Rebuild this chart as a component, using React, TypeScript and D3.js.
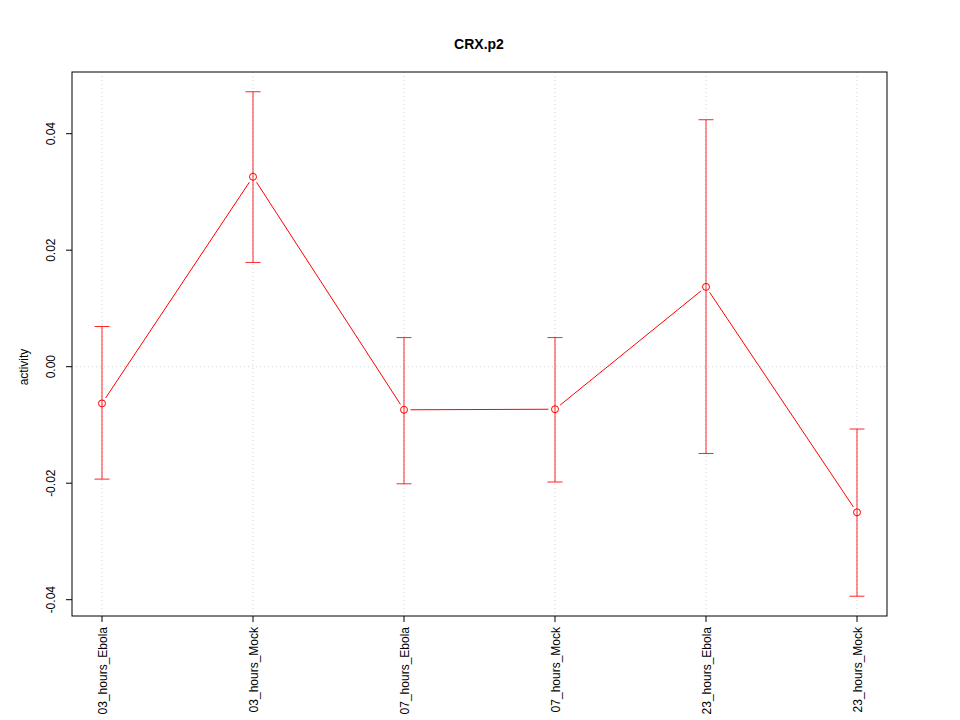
import React from "react";
import * as d3 from "d3";

const categories = ["03_hours_Ebola", "03_hours_Mock", "07_hours_Ebola", "07_hours_Mock", "23_hours_Ebola", "23_hours_Mock"];
const means = [-0.0063, 0.0326, -0.0074, -0.0073, 0.0137, -0.0250];
const uppers = [0.0069, 0.0472, 0.0050, 0.0050, 0.0424, -0.0107];
const lowers = [-0.0193, 0.0179, -0.0201, -0.0198, -0.0149, -0.0394];
const yTicks = [-0.04, -0.02, 0.0, 0.02, 0.04];

export default function App() {
  const W = 960, H = 720;
  const left = 72, right = 887, top = 72, bottom = 616;
  const x = d3.scalePoint<string>().domain(categories).range([102, 857]);
  const y = d3.scaleLinear().domain([-0.04, 0.04]).range([599.7, 133.7]);
  const red = "#ff0000";
  const font = "Liberation Sans, Arial, sans-serif";
  const gap = 6.5;

  const segs = [] as { x1: number; y1: number; x2: number; y2: number }[];
  for (let i = 0; i < categories.length - 1; i++) {
    const ax = x(categories[i])!, ay = y(means[i]);
    const bx = x(categories[i + 1])!, by = y(means[i + 1]);
    const dx = bx - ax, dy = by - ay;
    const len = Math.sqrt(dx * dx + dy * dy);
    const ux = dx / len, uy = dy / len;
    segs.push({ x1: ax + ux * gap, y1: ay + uy * gap, x2: bx - ux * gap, y2: by - uy * gap });
  }

  return (
    <svg width={W} height={H} style={{ position: "absolute", left: 0, top: 0, background: "#fff" }}>
      <rect x={0} y={0} width={W} height={H} fill="#fff" />
      {/* grid */}
      {categories.map((c) => (
        <line key={"g" + c} x1={x(c)} x2={x(c)} y1={top} y2={bottom} stroke="#d3d3d3" strokeDasharray="1,3" strokeWidth={1} />
      ))}
      <line x1={left} x2={right} y1={y(0)} y2={y(0)} stroke="#d3d3d3" strokeDasharray="1,3" strokeWidth={1} />
      {/* error bars */}
      {categories.map((c, i) => {
        const cx = x(c)!;
        return (
          <g key={"e" + c} stroke={red} strokeWidth={1} opacity={0.85}>
            <line x1={cx} x2={cx} y1={y(uppers[i])} y2={y(lowers[i])} />
            <line x1={cx - 7.5} x2={cx + 7.5} y1={y(uppers[i])} y2={y(uppers[i])} />
            <line x1={cx - 7.5} x2={cx + 7.5} y1={y(lowers[i])} y2={y(lowers[i])} />
          </g>
        );
      })}
      {/* lines */}
      {segs.map((s, i) => (
        <line key={"s" + i} x1={s.x1} y1={s.y1} x2={s.x2} y2={s.y2} stroke={red} strokeWidth={1} />
      ))}
      {categories.map((c, i) => (
        <circle key={"p" + c} cx={x(c)} cy={y(means[i])} r={3.5} fill="none" stroke={red} strokeWidth={1} />
      ))}
      {/* frame */}
      <rect x={left} y={top} width={right - left} height={bottom - top} fill="none" stroke="#000" strokeWidth={1} />
      {/* y axis */}
      {yTicks.map((t) => (
        <g key={"y" + t}>
          <line x1={left - 6} x2={left} y1={y(t)} y2={y(t)} stroke="#000" />
          <text transform={`translate(${55},${y(t)}) rotate(-90)`} textAnchor="middle" fontFamily={font} fontSize={12}>
            {t.toFixed(2)}
          </text>
        </g>
      ))}
      <text transform={`translate(${28},${367}) rotate(-90)`} textAnchor="middle" fontFamily={font} fontSize={12}>
        activity
      </text>
      {/* x axis */}
      {categories.map((c) => (
        <g key={"x" + c}>
          <line x1={x(c)} x2={x(c)} y1={bottom} y2={bottom + 6} stroke="#000" />
          <text transform={`translate(${x(c)! + 4.5},${627}) rotate(-90)`} textAnchor="end" fontFamily={font} fontSize={12}>
            {c}
          </text>
        </g>
      ))}
      <text x={479} y={49} textAnchor="middle" fontFamily={font} fontSize={14} fontWeight="bold">
        CRX.p2
      </text>
    </svg>
  );
}
